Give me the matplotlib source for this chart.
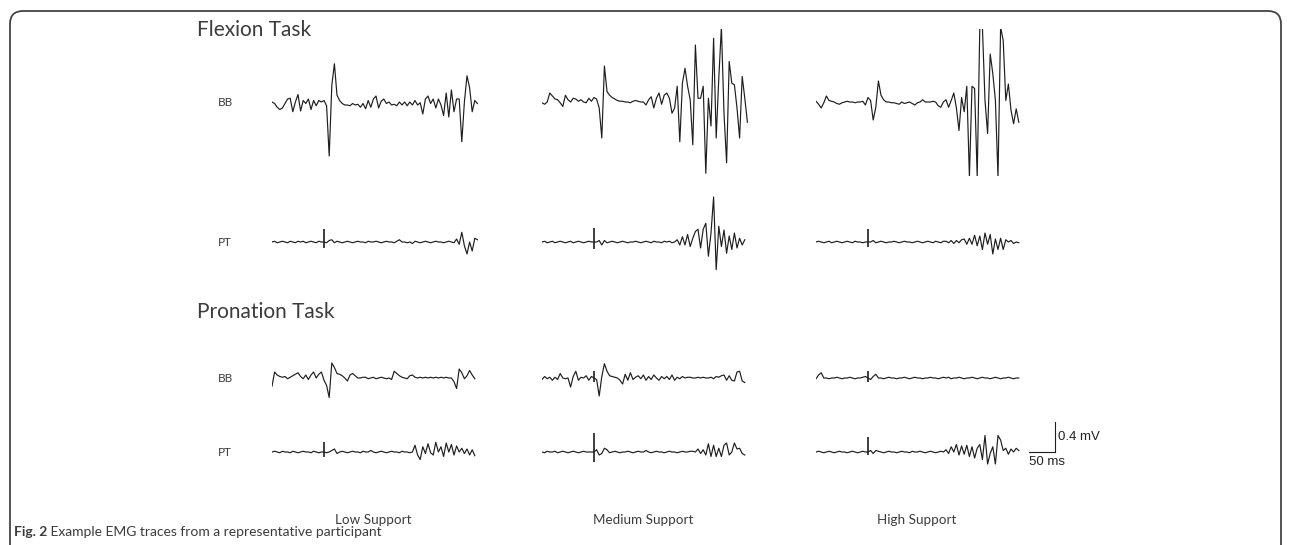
import numpy as np
import matplotlib
matplotlib.use('Agg')
import matplotlib.pyplot as plt
from matplotlib.patches import FancyBboxPatch
from matplotlib.transforms import IdentityTransform

plt.rcParams['font.family'] = ['Lato', 'DejaVu Sans']

# EMG traces in mV, one sample every 5 ms
dt = 5
flex_bb_low = [0.0, -0.02, -0.07, -0.10, -0.08, -0.02, 0.04, 0.05, -0.13, 0.0,
               0.10, -0.12, 0.02, -0.02, 0.04, -0.10, 0.02, -0.05, 0.02, 0.0,
               0.02, -0.05, -0.72, 0.22, 0.51, 0.09, 0.02, -0.02, -0.04, -0.04,
               -0.05, -0.02, -0.04, -0.03, -0.07, -0.02, -0.09, 0.02, -0.07, 0.04,
               0.08, -0.08, 0.01, 0.04, -0.02, 0.0, -0.04, -0.03, -0.05, 0.0,
               -0.04, 0.0, -0.05, 0.0, -0.04, 0.02, -0.04, -0.01, -0.16, 0.04,
               0.08, -0.02, 0.04, -0.08, 0.04, -0.04, -0.18, 0.12, -0.20, 0.16,
               -0.13, 0.04, 0.04, -0.53, 0.0, 0.35, 0.19, -0.13, 0.02, -0.02]
flex_bb_med = [-0.01, -0.03, 0.0, 0.12, 0.08, 0.04, 0.03, -0.01, -0.06, 0.09,
               0.03, 0.0, 0.05, 0.04, 0.01, 0.03, 0.0, -0.01, 0.05, 0.01,
               0.06, 0.04, -0.08, -0.48, 0.48, 0.14, 0.09, 0.06, 0.04, 0.02,
               0.01, 0.01, 0.0, 0.0, -0.01, 0.01, 0.02, 0.01, 0.0, 0.0,
               -0.04, 0.03, 0.07, -0.08, 0.05, 0.12, -0.03, 0.09, 0.12, 0.05,
               -0.15, -0.08, 0.21, -0.53, 0.25, 0.45, 0.21, 0.03, -0.57, 0.76,
               0.05, 0.05, 0.21, -0.95, 0.05, -0.32, 0.85, -0.48, 0.32, 1.0,
               -0.15, -0.81, 0.54, 0.25, 0.23, -0.08, -0.48, 0.34, 0.05, -0.27]
flex_bb_high = [0.01, -0.03, -0.08, -0.01, 0.08, 0.02, 0.01, 0.0, -0.02, -0.03,
                -0.01, 0.0, 0.01, 0.0, 0.0, -0.01, 0.0, 0.0, 0.01, -0.04,
                0.06, 0.02, -0.24, -0.07, 0.28, 0.09, 0.03, 0.0, 0.0, -0.01,
                -0.01, -0.02, -0.03, 0.0, -0.02, -0.01, 0.0, -0.02, -0.04, -0.01,
                0.0, 0.03, 0.0, 0.0, 0.0, 0.01, 0.0, -0.05, -0.07, 0.0,
                0.03, -0.07, 0.02, 0.12, -0.08, -0.38, 0.06, -0.13, 0.21, -1.0,
                0.21, 0.18, -1.0, 1.0, 1.0, 0.02, -0.42, 0.64, 0.38, 0.02,
                -1.0, 1.0, 0.82, 0.02, 0.24, -0.11, -0.29, -0.09, -0.27]
flex_pt_low = [0.0, 0.01, -0.01, 0.0, 0.01, 0.0, -0.01, 0.01, 0.0, -0.01,
               0.01, 0.0, 0.01, -0.01, 0.0, 0.01, 0.0, -0.01, 0.01, 0.0,
               0.0, -0.01, 0.02, 0.03, -0.01, 0.01, 0.0, -0.01, 0.0, 0.01,
               0.0, -0.01, 0.0, 0.01, 0.0, 0.0, -0.01, 0.01, 0.0, 0.0,
               0.01, 0.0, -0.01, 0.0, 0.01, 0.0, 0.0, -0.01, 0.01, 0.03,
               0.0, 0.0, -0.01, 0.0, -0.02, 0.01, 0.0, -0.01, 0.0, 0.01,
               0.0, -0.01, 0.0, 0.01, 0.0, 0.0, -0.01, 0.0, 0.01, 0.0,
               -0.01, 0.04, -0.03, 0.13, -0.05, -0.16, 0.0, -0.12, 0.05, 0.03]
flex_pt_med = [0.0, 0.01, -0.01, 0.0, 0.01, -0.01, 0.0, 0.01, 0.0, -0.01,
               0.0, 0.01, -0.01, 0.0, 0.01, 0.0, -0.01, 0.0, 0.01, 0.0,
               0.0, 0.0, 0.02, -0.04, 0.02, -0.01, 0.0, 0.01, 0.0, -0.01,
               0.0, 0.01, 0.0, -0.01, 0.0, 0.0, 0.01, 0.0, -0.01, 0.0,
               0.01, 0.0, -0.01, 0.01, 0.0, 0.0, -0.01, 0.01, 0.0, 0.01,
               -0.01, 0.0, 0.03, -0.04, 0.07, -0.04, 0.10, -0.06, 0.05, 0.14,
               0.17, -0.08, 0.17, 0.25, -0.19, 0.12, 0.60, -0.37, 0.21, -0.06,
               0.16, -0.15, 0.08, -0.10, 0.12, -0.08, 0.05, -0.04, 0.03]
flex_pt_high = [0.0, 0.01, 0.0, -0.01, 0.0, 0.01, -0.01, 0.0, 0.01, 0.0,
                -0.01, 0.0, 0.01, 0.0, -0.01, 0.01, 0.0, 0.0, -0.01, 0.0,
                0.0, 0.0, 0.02, -0.01, 0.0, 0.01, 0.0, -0.01, 0.0, 0.0,
                0.01, 0.0, -0.01, 0.0, 0.01, 0.0, 0.0, -0.01, 0.0, 0.01,
                0.0, -0.01, 0.0, 0.01, 0.0, -0.01, 0.01, 0.0, -0.01, 0.01,
                0.01, -0.01, 0.02, -0.02, 0.02, -0.01, 0.03, 0.04, -0.03, 0.05,
                -0.03, 0.09, -0.05, 0.08, -0.10, 0.12, -0.03, 0.10, -0.16, 0.04,
                -0.10, 0.05, -0.10, 0.03, 0.0, 0.02, -0.02, 0.0, -0.01]
pron_bb_low = [-0.11, 0.08, 0.04, 0.02, 0.01, 0.02, -0.01, 0.01, 0.03, 0.05,
               0.07, 0.02, -0.01, 0.04, -0.02, 0.04, 0.08, 0.0, 0.05, 0.08,
               -0.03, -0.10, -0.26, 0.20, 0.14, 0.06, 0.05, 0.03, 0.0, -0.04,
               0.04, 0.06, 0.03, 0.0, 0.0, 0.01, 0.01, -0.01, 0.0, 0.01,
               -0.01, 0.0, 0.01, 0.0, -0.01, 0.0, -0.02, 0.09, 0.06, 0.03,
               0.01, 0.0, -0.01, 0.03, 0.04, 0.01, 0.0, 0.01, 0.0, 0.01,
               0.0, 0.01, 0.0, 0.01, 0.0, 0.01, 0.0, 0.01, 0.0, 0.0,
               -0.05, -0.14, 0.12, 0.07, -0.01, 0.03, 0.10, 0.04, -0.01]
pron_bb_med = [-0.02, 0.02, -0.01, 0.01, -0.03, 0.01, -0.02, 0.06, 0.0, -0.01,
               0.0, -0.12, 0.02, 0.09, -0.03, 0.01, 0.0, 0.03, -0.03, 0.02,
               0.0, -0.02, -0.24, 0.02, 0.19, 0.09, 0.03, 0.02, 0.01, 0.0,
               -0.03, -0.08, 0.05, -0.03, 0.07, -0.02, 0.01, 0.03, -0.01, 0.04,
               -0.03, 0.02, -0.02, 0.04, 0.0, -0.03, 0.02, -0.01, 0.02, -0.02,
               0.04, -0.03, 0.01, -0.01, 0.02, 0.0, 0.01, 0.01, 0.0, 0.0,
               0.01, 0.0, 0.01, 0.0, 0.0, 0.01, -0.01, 0.02, 0.01, 0.03,
               0.04, -0.03, 0.03, -0.03, -0.04, 0.08, 0.09, -0.04, -0.06]
pron_bb_high = [-0.01, 0.04, 0.07, 0.0, 0.0, -0.01, 0.0, 0.0, 0.01, 0.0,
                -0.01, 0.0, 0.0, 0.01, 0.0, -0.01, 0.0, 0.0, 0.01, 0.02,
                0.0, -0.02, 0.02, 0.05, 0.0, 0.0, -0.01, 0.0, 0.01, 0.0,
                0.0, -0.01, 0.0, 0.0, 0.01, 0.0, -0.01, 0.0, 0.01, 0.0,
                0.0, -0.01, 0.0, 0.0, 0.01, 0.0, 0.0, -0.01, 0.0, 0.01,
                0.0, 0.01, -0.01, 0.0, 0.0, 0.01, 0.0, -0.01, 0.0, 0.0,
                0.01, 0.0, -0.01, 0.0, 0.01, 0.0, 0.0, -0.01, 0.0, 0.01,
                0.0, -0.01, 0.0, 0.0, 0.01, 0.0, -0.01, 0.0, 0.0]
pron_pt_low = [0.0, 0.01, 0.0, -0.01, 0.01, 0.0, 0.0, -0.01, 0.01, 0.0,
               -0.01, 0.0, 0.01, 0.0, 0.0, -0.01, 0.01, 0.0, -0.01, 0.0,
               0.0, -0.01, 0.0, 0.02, 0.04, -0.02, 0.0, 0.01, 0.0, -0.01,
               0.0, 0.01, 0.0, 0.0, -0.01, 0.01, 0.0, 0.0, 0.02, 0.0,
               -0.01, 0.0, 0.01, 0.0, -0.01, 0.0, 0.01, 0.0, 0.0, -0.01,
               0.01, 0.0, 0.0, -0.01, 0.0, 0.09, -0.04, -0.10, 0.07, -0.02,
               0.11, -0.01, -0.04, 0.13, 0.0, 0.07, -0.06, 0.12, 0.0, 0.10,
               -0.04, 0.08, 0.0, 0.05, -0.02, 0.04, -0.04, 0.03, -0.05]
pron_pt_med = [0.0, -0.01, 0.01, 0.0, 0.0, 0.01, -0.01, 0.0, 0.01, 0.0,
               -0.01, 0.0, 0.01, 0.0, -0.01, 0.0, 0.01, 0.0, 0.0, 0.0,
               0.0, 0.03, -0.04, -0.02, 0.05, 0.03, -0.01, 0.0, 0.01, 0.0,
               -0.01, 0.0, 0.0, 0.01, 0.0, -0.01, 0.0, 0.01, 0.0, 0.0,
               0.02, 0.0, -0.01, 0.0, 0.01, 0.0, 0.0, -0.01, 0.0, 0.01,
               0.0, 0.0, -0.01, 0.0, 0.01, 0.0, 0.0, 0.01, 0.01, 0.0,
               0.04, -0.02, 0.03, -0.04, 0.11, -0.06, 0.09, -0.06, 0.05, -0.06,
               0.09, 0.12, -0.04, 0.0, 0.12, 0.04, 0.05, -0.02, -0.04]
pron_pt_high = [0.0, 0.01, 0.0, -0.01, 0.0, 0.01, 0.0, -0.01, 0.0, 0.01,
                0.0, 0.0, -0.01, 0.0, 0.01, 0.0, -0.01, 0.0, 0.01, 0.0,
                0.0, 0.02, -0.02, 0.02, 0.01, 0.0, -0.01, 0.0, 0.01, 0.0,
                0.0, -0.01, 0.0, 0.01, 0.0, 0.0, -0.01, 0.01, 0.0, 0.0,
                0.01, 0.0, -0.01, 0.0, 0.01, 0.0, -0.01, 0.0, 0.01, 0.0,
                0.03, -0.02, 0.07, 0.0, 0.10, -0.04, 0.08, -0.03, 0.09, -0.06,
                0.07, -0.08, 0.05, 0.10, -0.10, 0.22, -0.16, -0.02, 0.07, -0.16,
                0.22, 0.16, 0.02, 0.05, -0.03, 0.04, 0.0, 0.05, 0.02]

# stimulus artifact at 100 ms, mV above / below baseline; 0 = not visible
stim_t = 100
stim_top = {'flex_pt': [0.18, 0.19, 0.18], 'pron_bb': [0.0, 0.10, 0.10], 'pron_pt': [0.14, 0.26, 0.20]}
stim_bot = {'flex_pt': [-0.08, -0.09, -0.06], 'pron_bb': [0.0, -0.05, -0.05], 'pron_pt': [-0.07, -0.13, -0.04]}

conditions = ['Low Support', 'Medium Support', 'High Support']
muscles = ['BB', 'PT']
tasks = ['Flexion Task', 'Pronation Task']
rows = [('flex_bb', [flex_bb_low, flex_bb_med, flex_bb_high]),
        ('flex_pt', [flex_pt_low, flex_pt_med, flex_pt_high]),
        ('pron_bb', [pron_bb_low, pron_bb_med, pron_bb_high]),
        ('pron_pt', [pron_pt_low, pron_pt_med, pron_pt_high])]

scale_mv, scale_ms = 0.4, 50

# layout in pixels
W, H = 1290, 545
col_x = [272, 542, 816]
row_y = [102, 242, 378, 452]
px_ms = 0.52
px_mv = 75
ylim = 0.98
tlen = 400

fig = plt.figure(figsize=(W / 100, H / 100), dpi=100)
tc = '#3c3c3c'
lc = '#1e1e1e'

# frame, rounded at the top, open at the bottom
box = FancyBboxPatch((10, -30), 1271, H - 11 + 30,
                     boxstyle='round,pad=0,rounding_size=13',
                     transform=IdentityTransform(), fill=False, ec='#444444', lw=1.3)
fig.patches.append(box)

axes = {}
for r, (key, traces) in enumerate(rows):
    for c, v in enumerate(traces):
        h = 2 * ylim * px_mv
        ax = fig.add_axes([col_x[c] / W, (H - row_y[r] - h / 2) / H, tlen * px_ms / W, h / H])
        ax.set_xlim(0, tlen)
        ax.set_ylim(-ylim, ylim)
        ax.axis('off')
        t = np.arange(len(v)) * dt
        ax.plot(t, v, color=lc, lw=0.85)
        if key in stim_top and stim_top[key][c] != 0:
            ax.vlines(stim_t, stim_bot[key][c], stim_top[key][c], color=lc, lw=1.2)
        axes[(r, c)] = ax

# row labels
for r, y in enumerate(row_y):
    fig.text(218 / W, 1 - y / H, muscles[r % 2], fontsize=8.5, color=tc, va='center', ha='left')

fig.text(197 / W, 1 - 30 / H, tasks[0], fontsize=15, color=tc, va='center', ha='left')
fig.text(197 / W, 1 - 312 / H, tasks[1], fontsize=15, color=tc, va='center', ha='left')

for c, name in enumerate(conditions):
    fig.text((col_x[c] + 101) / W, 1 - 520 / H, name, fontsize=9.75, color=tc,
             ha='center', va='center')

# scale bar
sax = axes[(3, 2)]
sax.plot([410, 410 + scale_ms], [0, 0], color=lc, lw=0.8, clip_on=False)
sax.plot([410 + scale_ms] * 2, [0, scale_mv], color=lc, lw=0.8, clip_on=False)
sax.text(410 + scale_ms + 5, scale_mv / 2, f'{scale_mv} mV', fontsize=9.5,
         family='Liberation Sans', va='center', ha='left', color='#222222')
sax.text(410, -0.05, f'{scale_ms} ms', fontsize=9.5, family='Liberation Sans',
         va='top', ha='left', color='#222222')

# caption: bold figure number, then the plain text right after it
cap = fig.text(14 / W, 1 - 532 / H, 'Fig. 2', fontsize=10, fontweight='bold', color=tc,
               va='center', ha='left')
cax = fig.add_axes([0, 0, 1, 1], zorder=-1)
cax.axis('off')
cax.annotate(' Example EMG traces from a representative participant', xy=(1, 0), xycoords=cap,
             fontsize=10, color=tc, va='bottom', ha='left')

fig.savefig('out.png', dpi=100)
